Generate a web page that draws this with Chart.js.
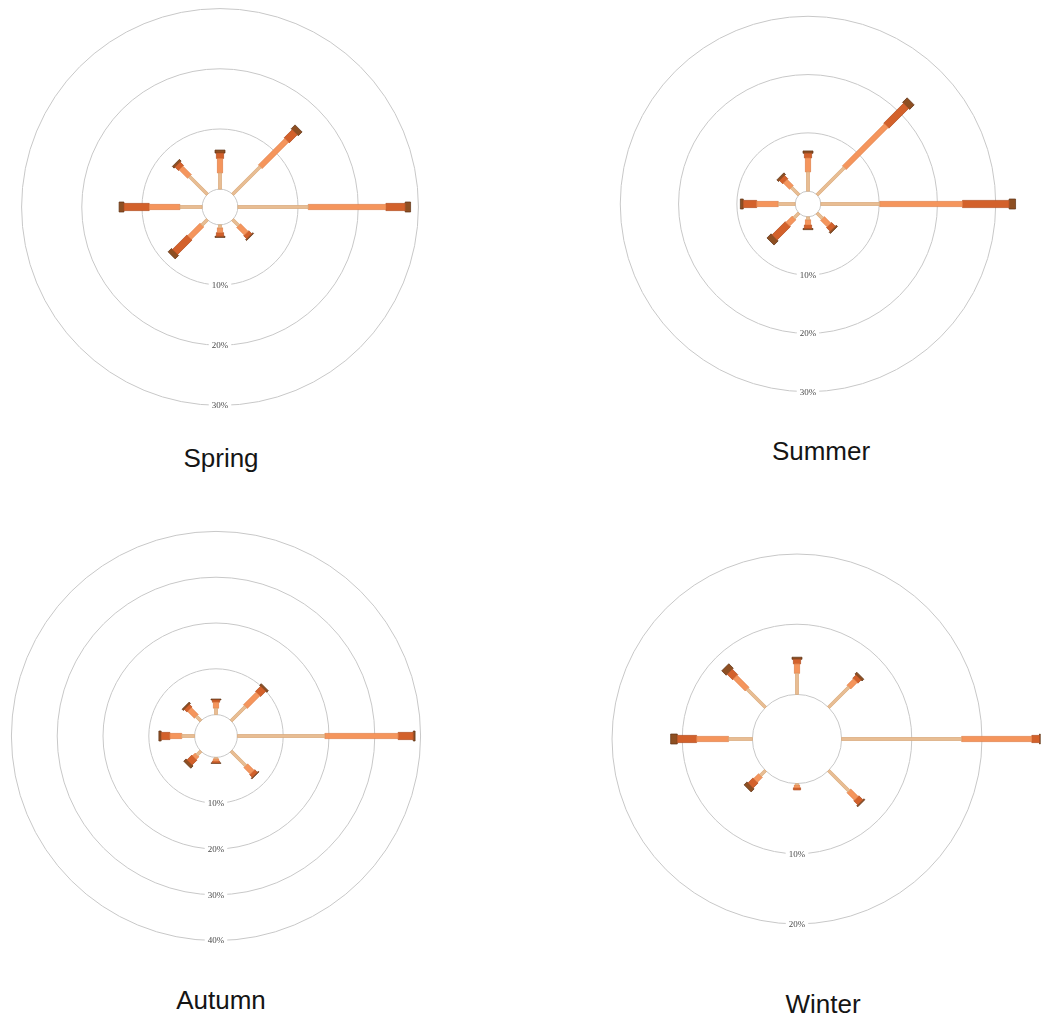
<!DOCTYPE html>
<html>
<head>
<meta charset="utf-8">
<title>Seasonal wind roses</title>
<script src="https://cdn.jsdelivr.net/npm/chart.js"></script>
<style>
  html, body { margin: 0; padding: 0; background: #ffffff; }
  #stage { position: relative; width: 1049px; height: 1018px; overflow: hidden; }
  #stage canvas { position: absolute; }
  .season {
    position: absolute;
    font-family: "Liberation Sans", Arial, sans-serif;
    font-size: 26px;
    color: #151515;
    transform: translateX(-50%);
    white-space: nowrap;
    line-height: 1;
  }
</style>
</head>
<body>
<div id="stage"></div>
<script>
// Compass sectors, clockwise from north
const directions = ['N', 'NE', 'E', 'SE', 'S', 'SW', 'W', 'NW'];
// Wind-speed classes, stacked outward from the centre
const speedClasses = ['0–2 m/s', '2–4 m/s', '4–6 m/s', '≥6 m/s'];

// Frequency (%) per sector for each speed class
const springBand1 = [2.7, 6.5, 11.7, 1.4, 0.5, 1.3, 3.7, 4.2];
const springBand2 = [2.4, 6.2, 12.9, 1.8, 0.8, 2.9, 5.1, 2.0];
const springBand3 = [0.9, 1.9, 3.2, 0.7, 0.6, 3.4, 4.2, 0.8];
const springBand4 = [0.5, 0.9, 0.9, 0.2, 0.2, 0.8, 0.8, 0.4];

const summerBand1 = [3.3, 6.6, 10.1, 1.3, 0.5, 1.2, 2.9, 1.8];
const summerBand2 = [2.4, 10.2, 14.2, 1.6, 0.9, 1.5, 3.7, 1.5];
const summerBand3 = [0.8, 4.8, 8.0, 0.9, 0.6, 3.2, 2.3, 0.8];
const summerBand4 = [0.4, 1.1, 1.1, 0.3, 0.2, 1.0, 0.5, 0.4];

const autumnBand1 = [1.4, 4.4, 19.1, 4.5, 0.3, 1.2, 2.8, 1.4];
const autumnBand2 = [1.3, 3.9, 16.0, 2.0, 0.5, 0.8, 2.6, 2.1];
const autumnBand3 = [0.5, 1.6, 3.3, 0.8, 0.4, 1.5, 1.9, 0.8];
const autumnBand4 = [0.2, 0.5, 0.4, 0.2, 0.1, 0.7, 0.5, 0.4];

const winterBand1 = [3.0, 4.1, 17.1, 4.1, 0.2, 1.0, 3.4, 3.7];
const winterBand2 = [1.35, 1.3, 10.0, 1.5, 0.4, 1.0, 4.55, 2.4];
const winterBand3 = [0.65, 0.65, 1.1, 0.8, 0.3, 1.0, 2.75, 1.1];
const winterBand4 = [0.3, 0.35, 0.1, 0.2, 0.0, 0.6, 0.95, 0.9];

// Labelled frequency rings (%)
const springRings = [10, 20, 30];
const summerRings = [10, 20, 30];
const autumnRings = [10, 20, 30, 40];
const winterRings = [10, 20];

const seasonNames = ['Spring', 'Summer', 'Autumn', 'Winter'];

// Styling of each speed class: fill, outline, half-thickness of the paddle (px)
const bandFill   = ['#e8bd93', '#f5955c', '#d3612b', '#8e4f22'];
const bandEdge   = ['#d9a878', '#e07c44', '#b24c1e', '#5e3214'];
const bandHalfW  = [1.5, 2.6, 3.6, 5.0];

// Panel geometry: centre (px), pixels per percent, hole size (%), radius of canvas (px), title anchor
const panels = [
  { name: seasonNames[0], bands: [springBand1, springBand2, springBand3, springBand4], rings: springRings,
    cx: 220, cy: 207, k: 6.02, hole: 2.96, R: 204, titleX: 221, titleY: 445 },
  { name: seasonNames[1], bands: [summerBand1, summerBand2, summerBand3, summerBand4], rings: summerRings,
    cx: 808, cy: 204, k: 5.83, hole: 2.2, R: 214, titleX: 821, titleY: 438 },
  { name: seasonNames[2], bands: [autumnBand1, autumnBand2, autumnBand3, autumnBand4], rings: autumnRings,
    cx: 216, cy: 736, k: 4.58, hole: 4.67, R: 210, titleX: 221, titleY: 987 },
  { name: seasonNames[3], bands: [winterBand1, winterBand2, winterBand3, winterBand4], rings: winterRings,
    cx: 797, cy: 739, k: 7.02, hole: 6.35, R: 248, titleX: 823, titleY: 991 }
];

// A straight paddle segment laid along a compass bearing
class PaddleSegment extends Chart.Element {
  static id = 'paddleSegment';
  static defaults = {
    backgroundColor: '#000000',
    borderColor: '#000000',
    borderWidth: 0.7,
    halfWidth: 2
  };

  draw(ctx) {
    const { x, y, angle, inner, outer } = this.getProps(['x', 'y', 'angle', 'inner', 'outer']);
    const o = this.options;
    if (!(outer - inner > 0)) return;
    ctx.save();
    ctx.translate(x, y);
    ctx.rotate(angle);
    ctx.beginPath();
    ctx.rect(inner, -o.halfWidth, outer - inner, o.halfWidth * 2);
    ctx.fillStyle = o.backgroundColor;
    ctx.fill();
    if (o.borderWidth > 0) {
      ctx.lineWidth = o.borderWidth;
      ctx.strokeStyle = o.borderColor;
      ctx.stroke();
    }
    ctx.restore();
  }

  inRange() { return false; }
  inXRange() { return false; }
  inYRange() { return false; }

  getCenterPoint() {
    const { x, y, angle, inner, outer } = this.getProps(['x', 'y', 'angle', 'inner', 'outer']);
    const m = (inner + outer) / 2;
    return { x: x + Math.cos(angle) * m, y: y + Math.sin(angle) * m };
  }

  tooltipPosition() { return this.getCenterPoint(); }
}

// Stacked wind-rose paddles on the radial scale of a polar-area chart
class PaddleController extends Chart.PolarAreaController {
  static id = 'paddle';
  static defaults = { dataElementType: 'paddleSegment' };

  updateElements(els, start, count, mode) {
    const scale = this._cachedMeta.rScale;
    const datasets = this.chart.data.datasets;
    const n = this.getDataset().data.length;
    for (let i = start; i < start + count; i++) {
      let base = 0;
      for (let j = 0; j < this.index; j++) base += datasets[j].data[i] || 0;
      const v = this.getParsed(i).r || 0;
      const props = {
        x: scale.xCenter,
        y: scale.yCenter,
        angle: (i * 360 / n - 90) * Math.PI / 180,
        inner: scale.getDistanceFromCenterForValue(base),
        outer: scale.getDistanceFromCenterForValue(base + v),
        options: this.resolveDataElementOptions(i, mode)
      };
      this.updateElement(els[i], i, props, mode);
    }
  }
}

Chart.register(PaddleSegment, PaddleController);

// Percentage labels placed on each ring below the centre
const ringLabels = {
  id: 'ringLabels',
  beforeDatasetsDraw(chart, args, opts) {
    const s = chart.scales.r;
    const ctx = chart.ctx;
    ctx.save();
    ctx.font = '9px "Liberation Serif", "Times New Roman", serif';
    ctx.textAlign = 'center';
    ctx.textBaseline = 'middle';
    (opts.values || []).forEach(v => {
      const y = s.yCenter + s.getDistanceFromCenterForValue(v);
      const text = v + '%';
      const w = ctx.measureText(text).width;
      ctx.fillStyle = '#ffffff';
      ctx.fillRect(s.xCenter - w / 2 - 3, y - 5, w + 6, 10);
      ctx.fillStyle = '#4a4a4a';
      ctx.fillText(text, s.xCenter, y + 0.5);
    });
    ctx.restore();
  }
};

const stage = document.getElementById('stage');

panels.forEach(p => {
  const size = p.R * 2;
  const canvas = document.createElement('canvas');
  canvas.width = size;
  canvas.height = size;
  canvas.style.width = size + 'px';
  canvas.style.height = size + 'px';
  canvas.style.left = (p.cx - p.R) + 'px';
  canvas.style.top = (p.cy - p.R) + 'px';
  stage.appendChild(canvas);

  const title = document.createElement('div');
  title.className = 'season';
  title.textContent = p.name;
  title.style.left = p.titleX + 'px';
  title.style.top = p.titleY + 'px';
  stage.appendChild(title);

  const minVal = -p.hole;
  const maxVal = minVal + p.R / p.k;

  new Chart(canvas, {
    type: 'paddle',
    data: {
      labels: directions,
      datasets: p.bands.map((band, b) => ({
        label: speedClasses[b],
        data: band,
        backgroundColor: bandFill[b],
        borderColor: bandEdge[b],
        borderWidth: 0.7,
        halfWidth: bandHalfW[b]
      }))
    },
    options: {
      responsive: false,
      animation: false,
      events: [],
      layout: { padding: 0 },
      plugins: {
        legend: { display: false },
        tooltip: { enabled: false },
        ringLabels: { values: p.rings }
      },
      scales: {
        r: {
          type: 'radialLinear',
          min: minVal,
          max: maxVal,
          startAngle: 0,
          grid: { circular: true, color: '#c8c8c8', lineWidth: 1 },
          angleLines: { display: false },
          pointLabels: { display: false },
          ticks: { display: false },
          afterBuildTicks: sc => {
            sc.ticks = [minVal, 0, ...p.rings].map(v => ({ value: v }));
          }
        }
      }
    },
    plugins: [ringLabels]
  });
});
</script>
</body>
</html>
